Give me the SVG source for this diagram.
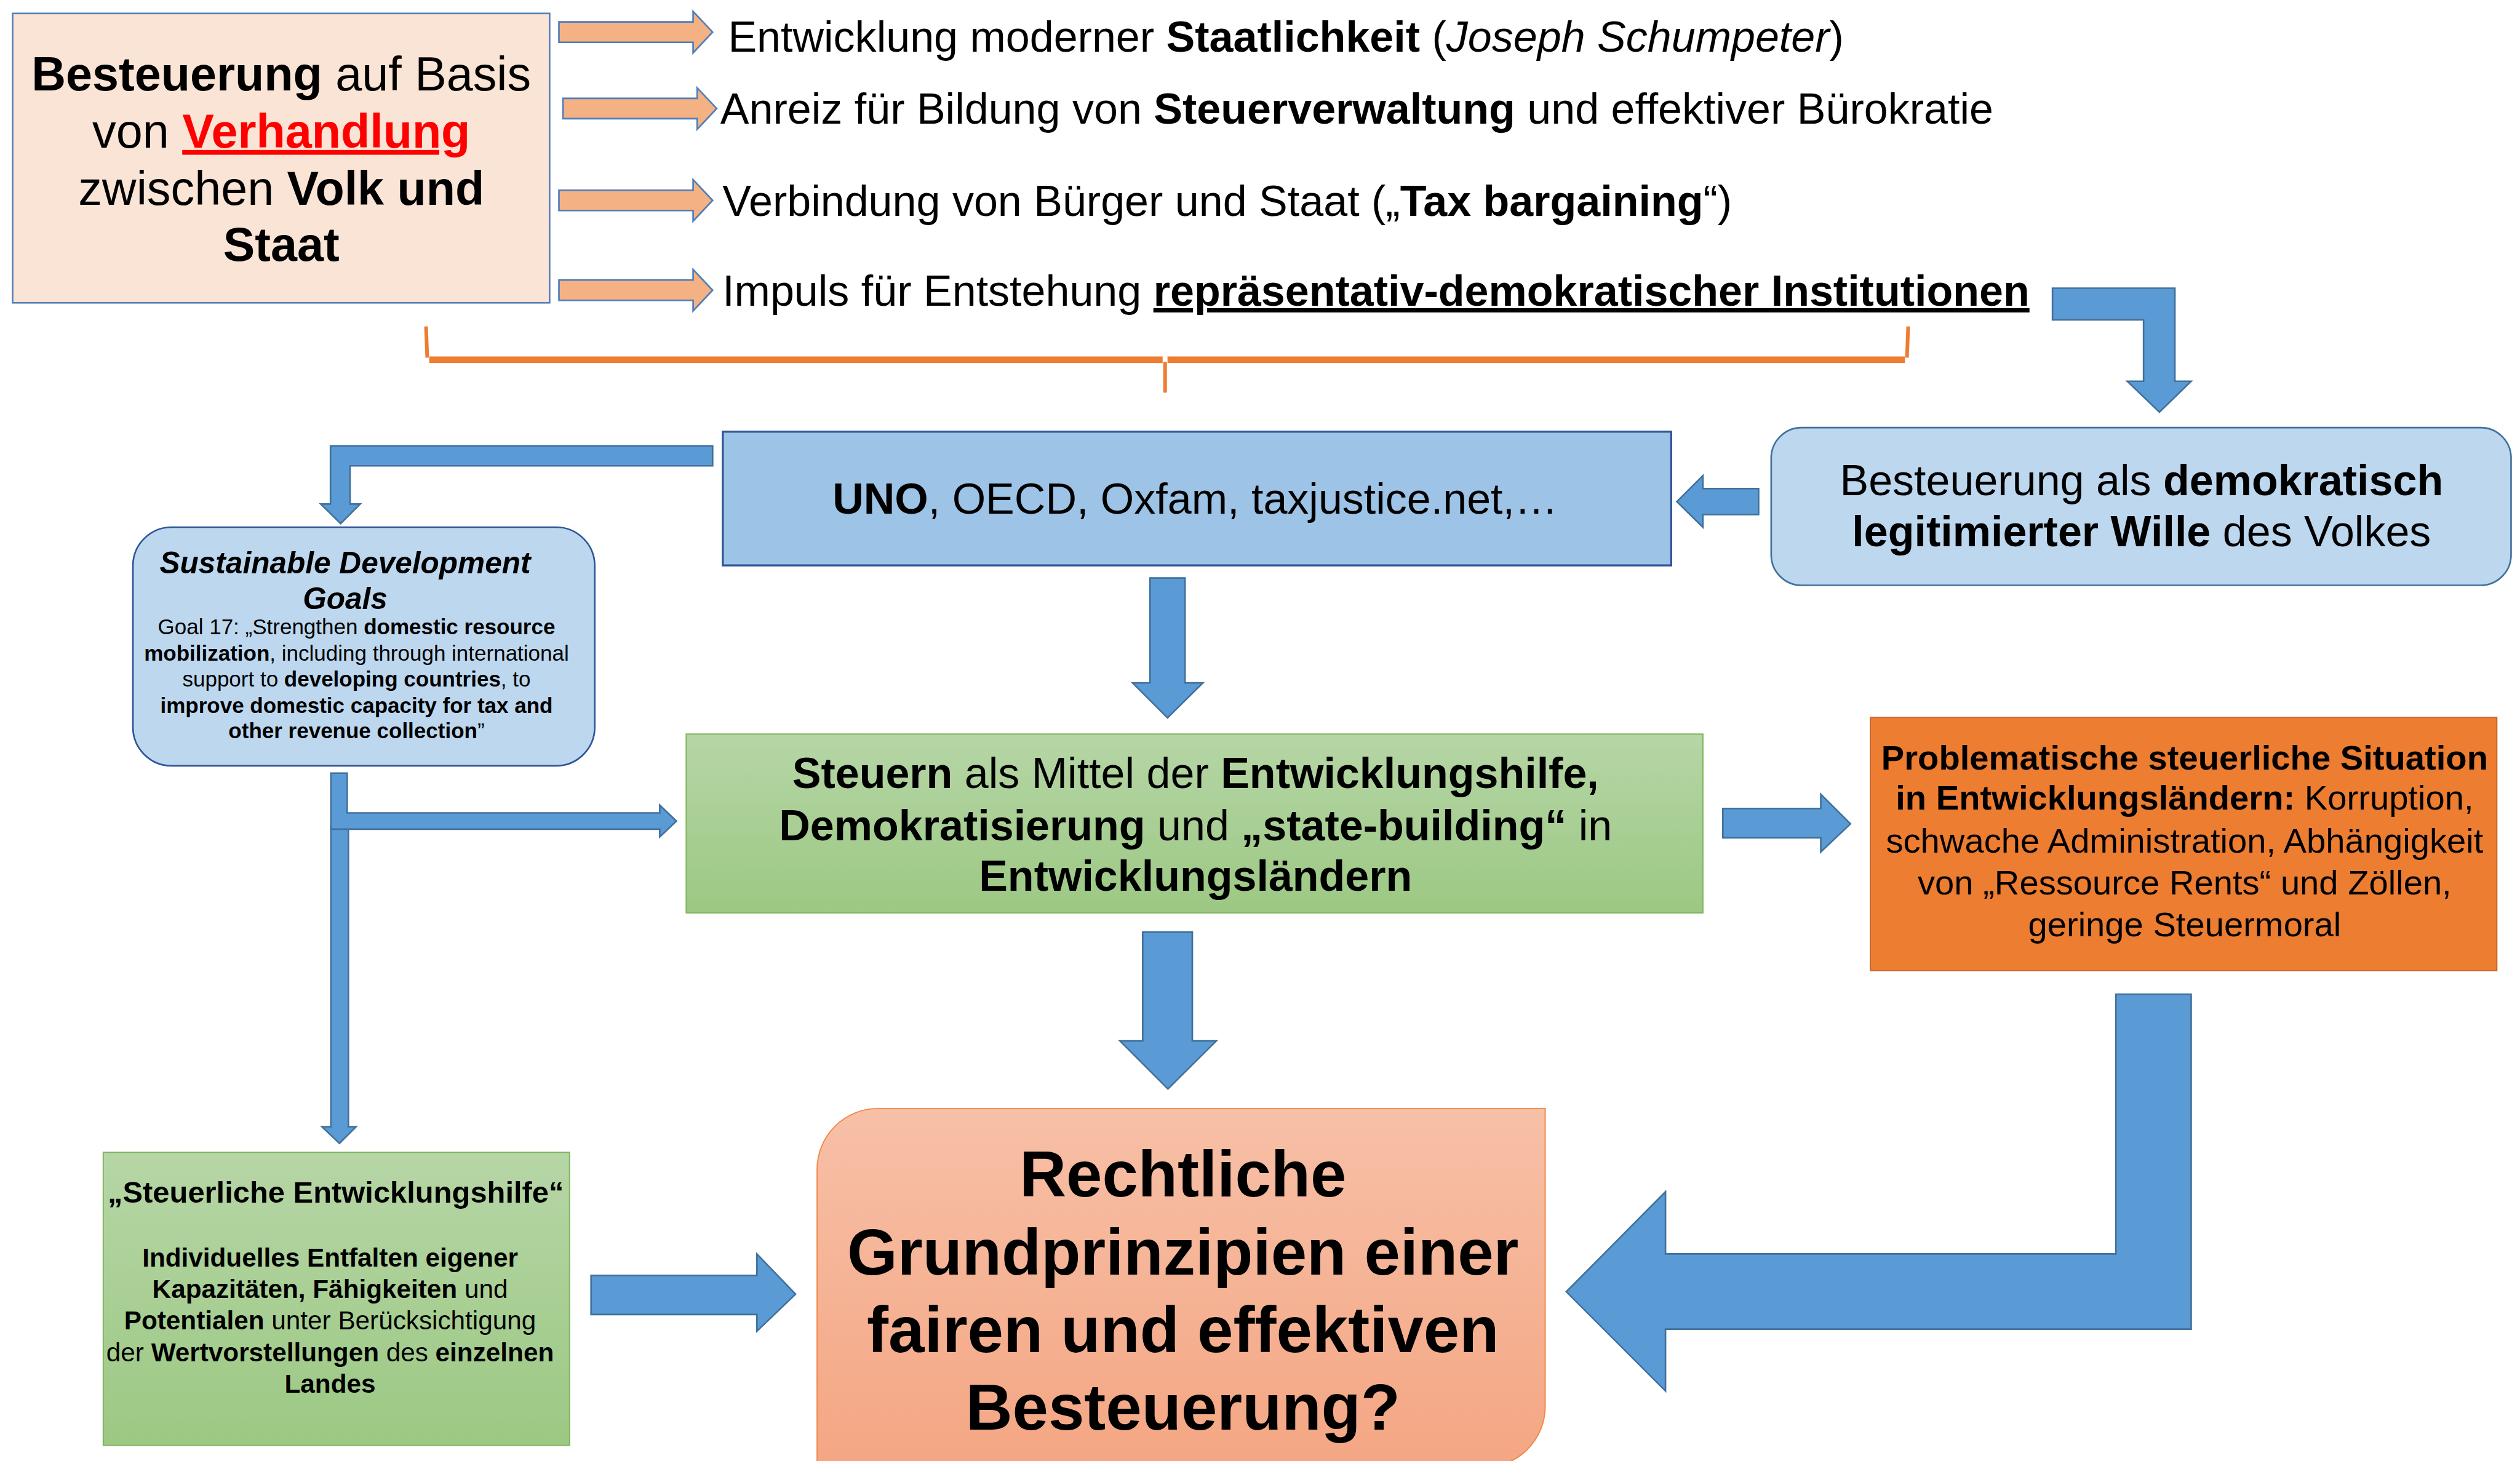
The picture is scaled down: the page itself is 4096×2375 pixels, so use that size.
<svg xmlns="http://www.w3.org/2000/svg" xmlns:xlink="http://www.w3.org/1999/xlink" width="4096" height="2375" viewBox="0 0 4096 2375">
<style>
text{font-family:"Liberation Sans",Arial,sans-serif;fill:#000}
.b{font-weight:bold}
.i{font-style:italic}
.blue{fill:#5B9BD5;stroke:#41719C;stroke-width:4;stroke-linejoin:miter}
.oarr{fill:#F4B183;stroke:#4F7EBA;stroke-width:4}
.brace{fill:none;stroke:#ED7D31;stroke-linejoin:round}
</style>
<defs>
<linearGradient id="gGreen" x1="0" y1="0" x2="0" y2="1"><stop offset="0" stop-color="#B6D6A6"/><stop offset="1" stop-color="#9CC883"/></linearGradient>
<linearGradient id="gSalmon" x1="0" y1="0" x2="0" y2="1"><stop offset="0" stop-color="#F7C0A7"/><stop offset="1" stop-color="#F4A683"/></linearGradient>
<path id="oArrow" d="M0,-25 H330 V-51 L378,0 L330,51 V25 H0 Z"/>
</defs>
<rect width="4096" height="2375" fill="#fff"/>
<g transform="scale(0.660752)">

<g id="connectors">
  <use xlink:href="#oArrow" class="oarr" transform="translate(1375,79)"/>
  <use xlink:href="#oArrow" class="oarr" transform="translate(1385,267)"/>
  <use xlink:href="#oArrow" class="oarr" transform="translate(1375,493)"/>
  <use xlink:href="#oArrow" class="oarr" transform="translate(1375,714)"/>
  <path class="brace" stroke-width="9" d="M1048,803 L1051,880 M4694,803 L4691,880 M2866,890 L2866,966"/>
  <path class="brace" stroke-width="16" d="M1056,885 H2860 M2872,885 H4686"/>
  <polygon class="blue" points="5049,709 5350,709 5350,938 5390,938 5312,1014 5233,938 5273,938 5273,787 5049,787"/>
  <polygon class="blue" points="4326,1202 4189,1202 4189,1170 4125,1234 4189,1297 4189,1266 4326,1266"/>
  <polygon class="blue" points="1753,1097 813,1097 813,1240 789,1240 838,1288 886,1240 861,1240 861,1146 1753,1146"/>
  <polygon class="blue" points="2829,1422 2915,1422 2915,1680 2959,1680 2872,1766 2786,1680 2829,1680"/>
  <polygon class="blue" points="4238,1989 4479,1989 4479,1954 4552,2027 4479,2096 4479,2061 4238,2061"/>
  <polygon class="blue" points="2811,2293 2933,2293 2933,2561 2992,2561 2873,2679 2755,2561 2811,2561"/>
  <polygon class="blue" points="814,2034 857,2034 857,2772 876,2772 835,2813 792,2772 814,2772"/>
  <polygon class="blue" points="814,1902 854,1902 854,2000 1623,2000 1623,1981 1664,2020 1623,2059 1623,2040 814,2040"/>
  <polygon class="blue" points="1454,3138 1862,3138 1862,3085 1957,3184 1862,3275 1862,3234 1454,3234"/>
  <polygon class="blue" points="5205,2446 5390,2446 5390,3270 4097,3270 4097,3422 3853,3178 4097,2932 4097,3085 5205,3085"/>
</g>

<g id="node-verhandlung">
  <rect x="31" y="33" width="1321" height="712" fill="#FAE4D6" stroke="#5B7FB5" stroke-width="4"/>
  <text x="692" y="223" font-size="117" text-anchor="middle"><tspan class="b">Besteuerung</tspan> auf Basis</text>
  <text x="692" y="363" font-size="117" text-anchor="middle">von <tspan class="b" style="fill:#FF0000;text-decoration:underline">Verhandlung</tspan></text>
  <text x="692" y="504" font-size="117" text-anchor="middle">zwischen <tspan class="b">Volk und</tspan></text>
  <text x="692" y="642" font-size="117" text-anchor="middle" class="b">Staat</text>
</g>

<g id="node-effects">
  <text x="1791" y="127" font-size="106">Entwicklung moderner <tspan class="b">Staatlichkeit</tspan> (<tspan class="i">Joseph Schumpeter</tspan>)</text>
  <text x="1772" y="304" font-size="106">Anreiz für Bildung von <tspan class="b">Steuerverwaltung</tspan> und effektiver Bürokratie</text>
  <text x="1777" y="531" font-size="106">Verbindung von Bürger und Staat („<tspan class="b">Tax bargaining</tspan>“)</text>
  <text x="1777" y="752" font-size="106">Impuls für Entstehung <tspan class="b" style="text-decoration:underline">repräsentativ-demokratischer Institutionen</tspan></text>
</g>

<g id="node-wille">
  <rect x="4357" y="1052" width="1820" height="388" rx="75" ry="75" fill="#BDD7EE" stroke="#41719C" stroke-width="4"/>
  <text x="5268" y="1219" font-size="106" text-anchor="middle">Besteuerung als <tspan class="b">demokratisch</tspan></text>
  <text x="5268" y="1344" font-size="106" text-anchor="middle"><tspan class="b">legitimierter Wille</tspan> des Volkes</text>
</g>

<g id="node-uno">
  <rect x="1778" y="1062" width="2333" height="329" fill="#9DC3E6" stroke="#2F5597" stroke-width="5"/>
  <text x="2940" y="1263" font-size="106" text-anchor="middle"><tspan class="b">UNO</tspan>, OECD, Oxfam, taxjustice.net,…</text>
</g>

<g id="node-sdg">
  <rect x="327" y="1297" width="1136" height="587" rx="95" ry="95" fill="#BDD7EE" stroke="#2F5597" stroke-width="4"/>
  <text x="849" y="1410" font-size="75" text-anchor="middle" class="b i">Sustainable Development</text>
  <text x="849" y="1499" font-size="75" text-anchor="middle" class="b i">Goals</text>
  <text x="877" y="1561" font-size="53" text-anchor="middle">Goal 17: „Strengthen <tspan class="b">domestic resource</tspan></text>
  <text x="877" y="1625" font-size="53" text-anchor="middle"><tspan class="b">mobilization</tspan>, including through international</text>
  <text x="877" y="1689" font-size="53" text-anchor="middle">support to <tspan class="b">developing countries</tspan>, to</text>
  <text x="877" y="1754" font-size="53" text-anchor="middle" class="b">improve domestic capacity for tax and</text>
  <text x="877" y="1816" font-size="53" text-anchor="middle"><tspan class="b">other revenue collection</tspan>”</text>
</g>

<g id="node-steuern">
  <rect x="1688" y="1806" width="2501" height="440" fill="url(#gGreen)" stroke="#7DB65A" stroke-width="3"/>
  <text x="2941" y="1938" font-size="106" text-anchor="middle"><tspan class="b">Steuern</tspan> als Mittel der <tspan class="b">Entwicklungshilfe,</tspan></text>
  <text x="2941" y="2067" font-size="106" text-anchor="middle"><tspan class="b">Demokratisierung</tspan> und <tspan class="b">„state-building“</tspan> in</text>
  <text x="2941" y="2192" font-size="106" text-anchor="middle" class="b">Entwicklungsländern</text>
</g>

<g id="node-problem">
  <rect x="4601" y="1765" width="1541" height="623" fill="#ED7D31" stroke="#C9652A" stroke-width="3"/>
  <text x="5374" y="1893" font-size="85" text-anchor="middle" class="b">Problematische steuerliche Situation</text>
  <text x="5374" y="1991" font-size="85" text-anchor="middle"><tspan class="b">in Entwicklungsländern:</tspan> Korruption,</text>
  <text x="5374" y="2098" font-size="85" text-anchor="middle">schwache Administration, Abhängigkeit</text>
  <text x="5374" y="2201" font-size="85" text-anchor="middle">von „Ressource Rents“ und Zöllen,</text>
  <text x="5374" y="2304" font-size="85" text-anchor="middle">geringe Steuermoral</text>
</g>

<g id="node-steuerliche">
  <rect x="254" y="2835" width="1147" height="721" fill="url(#gGreen)" stroke="#7DB65A" stroke-width="3"/>
  <text x="826" y="2958" font-size="74" text-anchor="middle" class="b">„Steuerliche Entwicklungshilfe“</text>
  <text x="812" y="3116" font-size="64" text-anchor="middle" class="b">Individuelles Entfalten eigener</text>
  <text x="812" y="3194" font-size="64" text-anchor="middle"><tspan class="b">Kapazitäten, Fähigkeiten</tspan> und</text>
  <text x="812" y="3271" font-size="64" text-anchor="middle"><tspan class="b">Potentialen</tspan> unter Berücksichtigung</text>
  <text x="812" y="3349" font-size="64" text-anchor="middle">der <tspan class="b">Wertvorstellungen</tspan> des <tspan class="b">einzelnen</tspan></text>
  <text x="812" y="3426" font-size="64" text-anchor="middle" class="b">Landes</text>
</g>

<g id="node-rechtliche">
  <path d="M2160,2727 H3801 V3460 A150,150 0 0 1 3651,3610 H2010 V2877 A150,150 0 0 1 2160,2727 Z" fill="url(#gSalmon)" stroke="#F08A4B" stroke-width="3"/>
  <text x="2910" y="2943" font-size="159" text-anchor="middle" class="b">Rechtliche</text>
  <text x="2910" y="3136" font-size="159" text-anchor="middle" class="b">Grundprinzipien einer</text>
  <text x="2910" y="3327" font-size="159" text-anchor="middle" class="b">fairen und effektiven</text>
  <text x="2910" y="3517" font-size="159" text-anchor="middle" class="b">Besteuerung?</text>
</g>

</g>
</svg>
